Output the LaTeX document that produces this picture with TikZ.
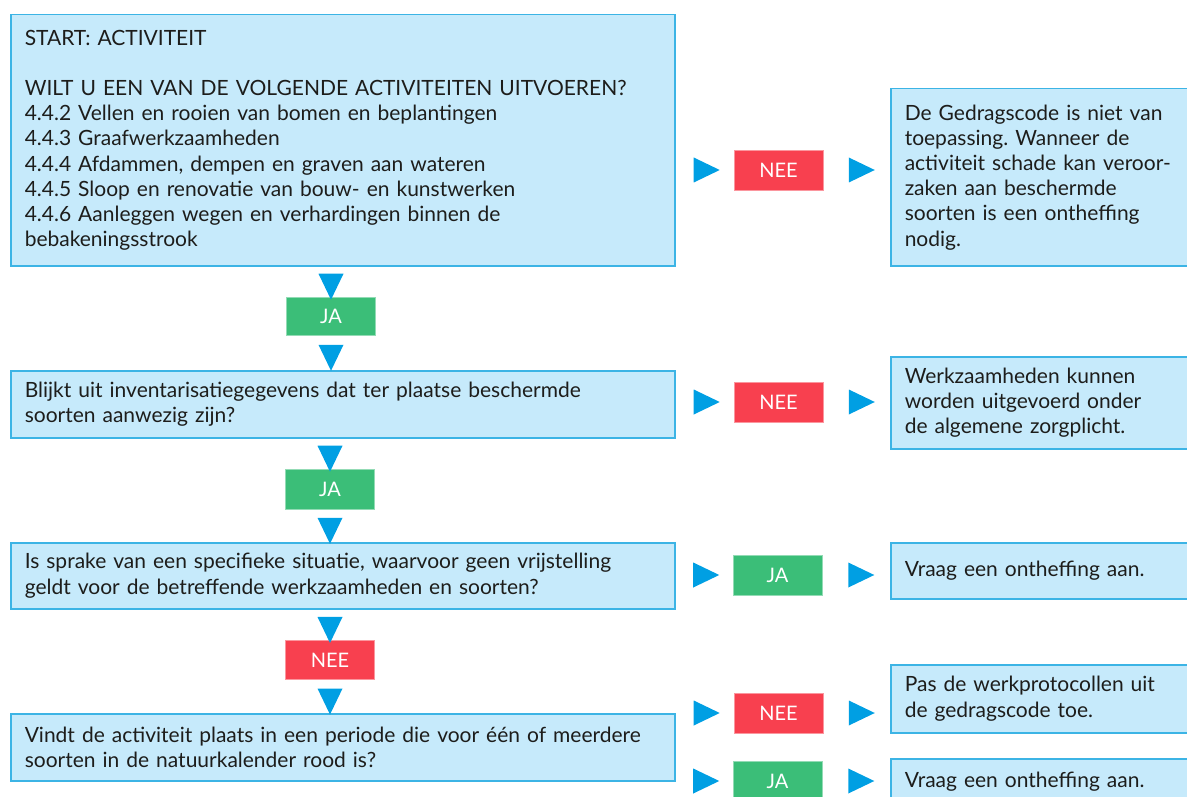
\documentclass[tikz,border=0pt]{standalone}
\usepackage{fontspec}
\setmainfont{Lato}
\frenchspacing
\usetikzlibrary{shapes.geometric}

\definecolor{boxblue}{HTML}{C6EAFB}
\definecolor{boxline}{HTML}{3CB4E5}
\definecolor{triblue}{HTML}{009FE3}
\definecolor{neered}{HTML}{F8404F}
\definecolor{jagreen}{HTML}{3BBE78}
\definecolor{txt}{HTML}{1D1D1B}

\tikzset{
  qbox/.style={draw=boxline, line width=1.5pt, fill=boxblue, anchor=north west,
    align=left, inner xsep=14pt, inner ysep=0pt, text=txt,
    font=\fontsize{21}{25.2}\selectfont},
  left/.style={qbox, text width=636pt, minimum width=664pt},
  right/.style={qbox, text width=282pt, minimum width=310pt},
  lab/.style={minimum width=89pt, minimum height=40pt, inner sep=0pt, text=white,
    font=\fontsize{20}{22}\selectfont},
  nee/.style={lab, fill=neered, draw=neered!55!white, line width=0.6pt},
  ja/.style={lab, fill=jagreen, draw=jagreen!55!white, line width=0.6pt},
  tri/.style={isosceles triangle, isosceles triangle stretches, fill=triblue,
    inner sep=0pt, minimum width=25pt, minimum height=26pt, sloped}
}

\begin{document}
\begin{tikzpicture}[x=1pt, y=-1pt]
    \useasboundingbox (0,0) rectangle (1187,797);
    \clip (0,0) rectangle (1187,797);

    % questions on the left
    \node [left, minimum height=251pt] (q1) at (10,14) {START: ACTIVITEIT\\[25.2pt]
        WILT U EEN VAN DE VOLGENDE ACTIVITEITEN UITVOEREN?\\
        4.4.2 Vellen en rooien van bomen en beplantingen\\
        4.4.3 Graafwerkzaamheden\\
        4.4.4 Afdammen, dempen en graven aan wateren\\
        4.4.5 Sloop en renovatie van bouw- en kunstwerken\\
        4.4.6 Aanleggen wegen en verhardingen binnen de\\
        bebakeningsstrook};
    \node [left, minimum height=67pt] (q2) at (10,370) {Blijkt uit inventarisatiegegevens dat ter plaatse beschermde\\
        soorten aanwezig zijn?};
    \node [left, minimum height=66pt] (q3) at (10,542) {Is sprake van een specifieke situatie, waarvoor geen vrijstelling\\
        geldt voor de betreffende werkzaamheden en soorten?};
    \node [left, minimum height=67pt] (q4) at (10,713) {Vindt de activiteit plaats in een periode die voor één of meerdere\\
        soorten in de natuurkalender rood is?};

    % answers going down
    \node [ja, minimum height=38pt] (ja1) at (331,316) {JA};
    \node [ja] (ja2) at (330,489) {JA};
    \node [nee, minimum height=39pt] (nee3) at (330,660) {NEE};

    % answers to the right
    \node [nee] (nee1) at (778.5,170) {NEE};
    \node [nee] (nee2) at (778.5,402) {NEE};
    \node [ja] (ja3) at (777.5,575) {JA};
    \node [nee] (nee4) at (778.5,713) {NEE};
    \node [ja] (ja4) at (777.5,781) {JA};

    % outcomes
    \node [right, minimum height=177pt] (r1) at (890,88) {De Gedragscode is niet van\\
        toepassing. Wanneer de\\
        activiteit schade kan veroor-\\
        zaken aan beschermde\\
        soorten is een ontheffing\\
        nodig.};
    \node [right, minimum height=92pt] (r2) at (890,356) {Werkzaamheden kunnen\\
        worden uitgevoerd onder\\
        de algemene zorgplicht.};
    \node [right, minimum height=56pt] (r3) at (890,542) {Vraag een ontheffing aan.};
    \node [right, minimum height=68pt] (r4) at (890,664) {Pas de werkprotocollen uit\\
        de gedragscode toe.};
    \node [right, minimum height=46pt] (r5) at (890,758) {Vraag een ontheffing aan.};

    % triangles between the boxes
    \path (ja1 |- q1.south) -- node [tri] (t1) {} (ja1.north);
    \path (ja1.south) -- node [tri] (t2) {} (ja1 |- q2.north);
    \path (ja2 |- q2.south) -- node [tri] (t3) {} (ja2.north);
    \path (ja2.south) -- node [tri] (t4) {} (ja2 |- q3.north);
    \path (nee3 |- q3.south) -- node [tri] (t5) {} (nee3.north);
    \path (nee3.south) -- node [tri] (t6) {} (nee3 |- q4.north);

    \path (q1.east |- nee1) -- node [tri, xshift=-3pt] (s1) {} (nee1.west);
    \path (nee1.east) -- node [tri] (s2) {} (r1.west |- nee1);
    \path (q2.east |- nee2) -- node [tri, xshift=-3pt] (s3) {} (nee2.west);
    \path (nee2.east) -- node [tri] (s4) {} (r2.west |- nee2);
    \path (q3.east |- ja3) -- node [tri, xshift=-3pt] (s5) {} (ja3.west);
    \path (ja3.east) -- node [tri] (s6) {} (r3.west |- ja3);
    \path (q4.east |- nee4) -- node [tri, xshift=-3pt] (s7) {} (nee4.west);
    \path (nee4.east) -- node [tri] (s8) {} (r4.west |- nee4);
    \path (q4.east |- ja4) -- node [tri, xshift=-3pt] (s9) {} (ja4.west);
    \path (ja4.east) -- node [tri] (s10) {} (r5.west |- ja4);
\end{tikzpicture}
\end{document}
